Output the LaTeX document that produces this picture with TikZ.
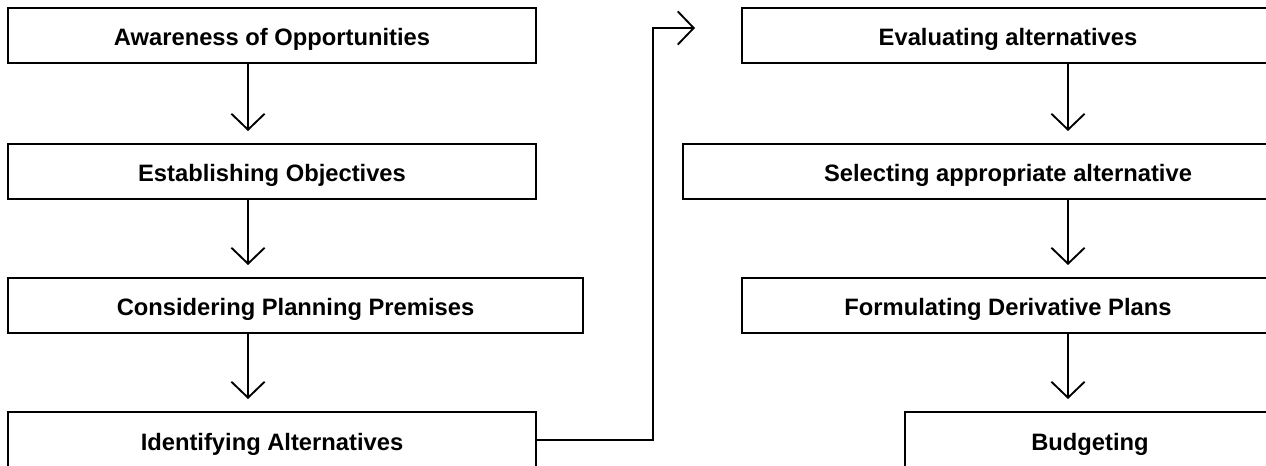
\documentclass[tikz,border=0pt]{standalone}
\usepackage{fontspec}
\setmainfont{Liberation Sans}
\usetikzlibrary{arrows.meta}

\tikzset{
  stepbox/.style={draw, line width=1.5pt, minimum height=41.25pt, inner sep=0pt,
    text height=15pt, text depth=0pt,
    font=\bfseries\fontsize{17.8pt}{20pt}\selectfont},
  flow/.style={line width=1.4pt, -{Straight Barb[length=12pt,width=25pt,line width=1.4pt]}}
}

\begin{document}
\begin{tikzpicture}[x=0.75pt,y=-0.75pt]
        \useasboundingbox (0,0) rectangle (1266,466);
        % Left column
        \node[stepbox, minimum width=396pt] (aware) at (272,35.5) {Awareness of Opportunities};
        \node[stepbox, minimum width=396pt] (objectives) at (272,171.5) {Establishing Objectives};
        \node[stepbox, minimum width=431.25pt] (premises) at (295.5,305.5) {Considering Planning Premises};
        \node[stepbox, minimum width=396pt, minimum height=42pt] (identify) at (272,440) {Identifying Alternatives};
        % Right column
        \node[stepbox, minimum width=399pt] (evaluate) at (1008,35.5) {Evaluating alternatives};
        \node[stepbox, minimum width=487.5pt] (select) at (1008,171.5) {Selecting appropriate alternative};
        \node[stepbox, minimum width=399pt] (derive) at (1008,305.5) {Formulating Derivative Plans};
        \node[stepbox, minimum width=277.5pt, minimum height=42pt] (budget) at (1090,440) {Budgeting};
        % Arrow lines
        \coordinate (la) at (248,0);
        \coordinate (ra) at (1068,0);
        \coordinate (up) at (653,0);
        \coordinate (tip) at (695,28);
        \draw[flow, shorten >=12*0.75pt] (aware.south -| la) -- (objectives.north -| la);
        \draw[flow, shorten >=12*0.75pt] (objectives.south -| la) -- (premises.north -| la);
        \draw[flow, shorten >=12*0.75pt] (premises.south -| la) -- (identify.north -| la);
        \draw[flow, shorten >=12*0.75pt] (evaluate.south -| ra) -- (select.north -| ra);
        \draw[flow, shorten >=12*0.75pt] (select.south -| ra) -- (derive.north -| ra);
        \draw[flow, shorten >=12*0.75pt] (derive.south -| ra) -- (budget.north -| ra);
        % Link to right column
        \draw[flow] (identify.east) -| (up |- tip) -- (tip);
    \end{tikzpicture}
\end{document}
